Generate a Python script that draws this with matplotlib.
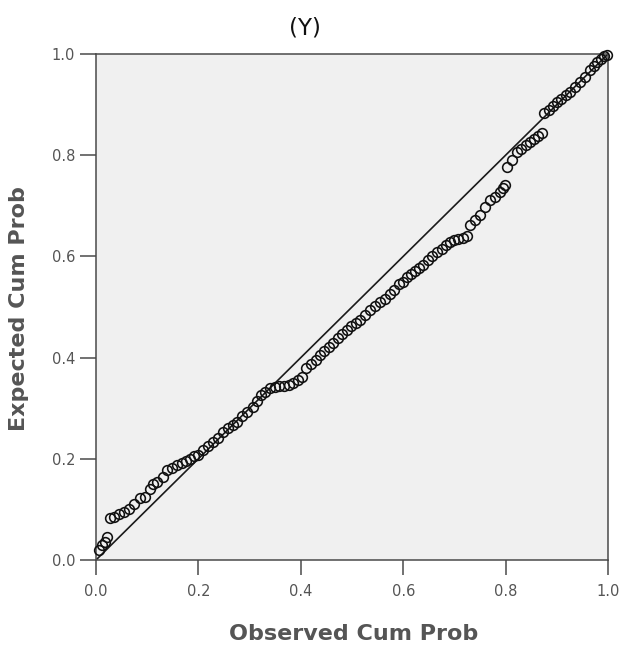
import matplotlib
matplotlib.use("Agg")
import matplotlib.pyplot as plt

# Observed cumulative probability (x) and expected cumulative probability (y)
observed = [0.006, 0.012, 0.018, 0.022,
            0.027, 0.035, 0.045, 0.055, 0.065, 0.075, 0.086, 0.095, 0.105, 0.112,
            0.120, 0.130, 0.139, 0.148, 0.158, 0.167, 0.176, 0.184, 0.192, 0.200,
            0.209, 0.218, 0.229, 0.238, 0.248, 0.258, 0.267, 0.275, 0.285, 0.295,
            0.307, 0.315, 0.322, 0.331, 0.340, 0.349, 0.358, 0.367, 0.376, 0.385,
            0.394, 0.402, 0.410, 0.420, 0.430, 0.438, 0.446, 0.455, 0.463, 0.472,
            0.481, 0.490, 0.499, 0.508, 0.516, 0.526, 0.535, 0.545, 0.555, 0.565,
            0.575, 0.583, 0.592, 0.600, 0.607, 0.615, 0.623, 0.631, 0.639, 0.648,
            0.657, 0.666, 0.675, 0.683, 0.691, 0.700, 0.708, 0.717, 0.725,
            0.730, 0.740, 0.750, 0.760, 0.770, 0.779, 0.789, 0.795, 0.799,
            0.803, 0.812, 0.822, 0.830, 0.839, 0.848, 0.856, 0.864, 0.871,
            0.875, 0.884, 0.892, 0.900, 0.909, 0.917, 0.926, 0.935, 0.945, 0.955,
            0.965, 0.972, 0.979, 0.986, 0.993, 0.998]
expected = [0.020, 0.030, 0.035, 0.045,
            0.083, 0.085, 0.090, 0.095, 0.100, 0.110, 0.122, 0.125, 0.140, 0.150,
            0.155, 0.165, 0.178, 0.182, 0.188, 0.192, 0.196, 0.200, 0.205, 0.208,
            0.217, 0.225, 0.233, 0.242, 0.253, 0.260, 0.266, 0.273, 0.285, 0.293,
            0.302, 0.315, 0.326, 0.333, 0.340, 0.342, 0.343, 0.344, 0.346, 0.350,
            0.355, 0.362, 0.380, 0.388, 0.395, 0.405, 0.413, 0.420, 0.429, 0.438,
            0.447, 0.455, 0.462, 0.468, 0.474, 0.484, 0.494, 0.502, 0.510, 0.516,
            0.525, 0.533, 0.545, 0.550, 0.559, 0.565, 0.572, 0.578, 0.583, 0.592,
            0.600, 0.609, 0.615, 0.622, 0.628, 0.632, 0.634, 0.636, 0.640,
            0.662, 0.672, 0.682, 0.697, 0.711, 0.718, 0.727, 0.735, 0.741,
            0.777, 0.790, 0.806, 0.812, 0.820, 0.826, 0.832, 0.838, 0.844,
            0.883, 0.890, 0.898, 0.905, 0.912, 0.918, 0.925, 0.935, 0.945, 0.955,
            0.968, 0.976, 0.984, 0.990, 0.996, 0.999]

ref_line = [0.0, 1.0]
ticks = [0.0, 0.2, 0.4, 0.6, 0.8, 1.0]
tick_labels = ["0.0", "0.2", "0.4", "0.6", "0.8", "1.0"]
title = "(Y)"
xlabel = "Observed Cum Prob"
ylabel = "Expected Cum Prob"

W, H = 623, 645
fig = plt.figure(figsize=(W / 100, H / 100), dpi=100)
fig.patch.set_facecolor("white")
ax = fig.add_axes([96 / W, (H - 560) / H, 512 / W, 506 / H])
ax.set_facecolor("#f0f0f0")

ax.plot(ref_line, ref_line, color="#1a1a1a", lw=1.2, zorder=2)
ax.plot(observed, expected, linestyle="none", marker="o", markersize=7.0,
        markerfacecolor="none", markeredgecolor="#111111", markeredgewidth=1.15,
        zorder=3, clip_on=False)

ax.set_xlim(0, 1)
ax.set_ylim(0, 1)
ax.set_xticks(ticks)
ax.set_xticklabels(tick_labels)
ax.set_yticks(ticks)
ax.set_yticklabels(tick_labels)
for s in ax.spines.values():
    s.set_color("#4a4a4a")
    s.set_linewidth(1.1)
ax.tick_params(axis="y", length=11.5, width=1.1, color="#4a4a4a", pad=3.5,
               labelsize=10.5, labelcolor="#555555")
ax.tick_params(axis="x", length=11, width=1.1, color="#4a4a4a", pad=6,
               labelsize=10.5, labelcolor="#555555")
for lab in ax.get_xticklabels() + ax.get_yticklabels():
    lab.set_family("DejaVu Sans")

fig.text(305 / W, 1 - 28 / H, title, ha="center", va="center",
         fontsize=16.5, color="#111111", family="DejaVu Sans")
fig.text(353.5 / W, (H - 640) / H, xlabel, ha="center", va="baseline",
         fontsize=16, fontweight="bold", color="#555555", family="DejaVu Sans")
fig.text(19.5 / W, 1 - 308.5 / H, ylabel, ha="center", va="center",
         rotation=90, fontsize=16, fontweight="bold", color="#555555",
         family="DejaVu Sans")

fig.savefig("out.png", dpi=100)
